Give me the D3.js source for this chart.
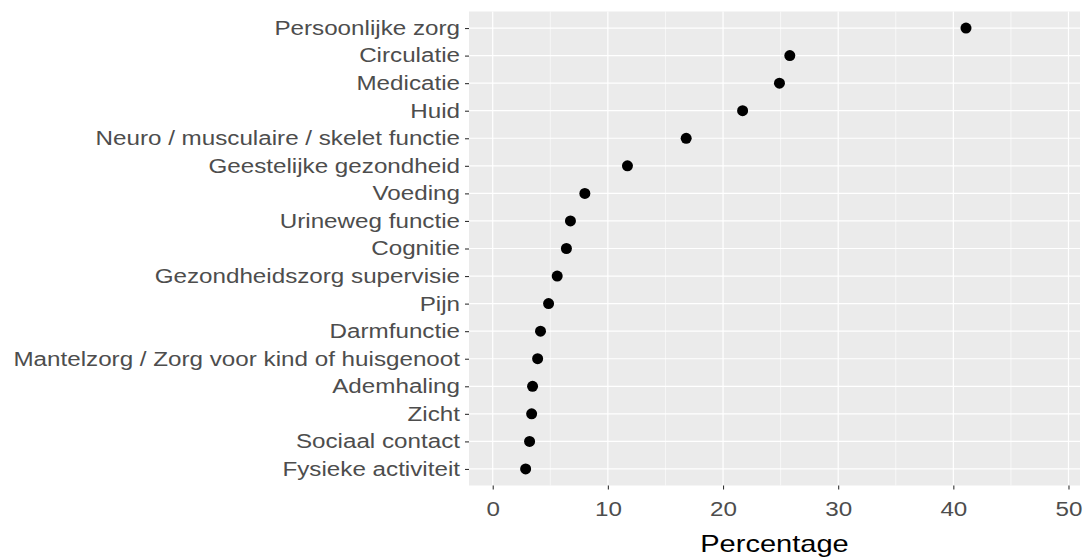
<!DOCTYPE html><html><head><meta charset="utf-8"><script src="https://cdn.jsdelivr.net/npm/d3@7"></script>
<style>body{margin:0;background:#fff}text{font-family:"Liberation Sans",Arial,sans-serif}</style></head><body>
<svg id="c" width="1089" height="557"></svg>
<script>
const categories=["Persoonlijke zorg","Circulatie","Medicatie","Huid","Neuro / musculaire / skelet functie","Geestelijke gezondheid","Voeding","Urineweg functie","Cognitie","Gezondheidszorg supervisie","Pijn","Darmfunctie","Mantelzorg / Zorg voor kind of huisgenoot","Ademhaling","Zicht","Sociaal contact","Fysieke activiteit"];
const values=[41.1,25.8,24.9,21.7,16.8,11.7,8.0,6.75,6.4,5.6,4.85,4.15,3.9,3.46,3.38,3.2,2.86];
const xTicks=[0,10,20,30,40,50];
const svg=d3.select("#c");
const L=469,R=1080,T=11.5,B=485.5;
const x=d3.scaleLinear().domain([-2.06,51.0]).range([L,R]);
const y=d3.scalePoint().domain(categories).range([T,B]).padding(0.6);
svg.append("rect").attr("x",L).attr("y",T).attr("width",R-L).attr("height",B-T).attr("fill","#ebebeb");
const minor=[5,15,25,35,45];
svg.selectAll(".mn").data(minor).enter().append("line").attr("x1",d=>x(d)).attr("x2",d=>x(d)).attr("y1",T).attr("y2",B).attr("stroke","#fff").attr("stroke-width",0.6);
svg.selectAll(".mj").data(xTicks).enter().append("line").attr("x1",d=>x(d)).attr("x2",d=>x(d)).attr("y1",T).attr("y2",B).attr("stroke","#fff").attr("stroke-width",1.2);
svg.selectAll(".hy").data(categories).enter().append("line").attr("x1",L).attr("x2",R).attr("y1",d=>y(d)).attr("y2",d=>y(d)).attr("stroke","#fff").attr("stroke-width",1.2);
const xa=svg.append("g").attr("transform",`translate(0,${B})`).call(d3.axisBottom(x).tickValues(xTicks).tickSize(4).tickPadding(3));
const ya=svg.append("g").attr("transform",`translate(${L},0)`).call(d3.axisLeft(y).tickSize(4).tickPadding(5));
[xa,ya].forEach(a=>{a.select(".domain").remove();a.selectAll("line").attr("stroke","#333").attr("stroke-width",1.1);a.selectAll("text").attr("fill","#4d4d4d").style("font-size","20px");});
xa.selectAll("text").attr("dy","1.15em");
svg.selectAll(".pt").data(values).enter().append("circle").attr("cx",d=>x(d)).attr("cy",(d,i)=>y(categories[i])).attr("r",5.5).attr("fill","#000");
svg.append("text").attr("x",(L+R)/2).attr("y",552).attr("text-anchor","middle").style("font-size","24px").text("Percentage");
svg.selectAll("text").each(function(){const w=this.getComputedTextLength();d3.select(this).attr("textLength",w*1.21).attr("lengthAdjust","spacingAndGlyphs");});
</script></body></html>
